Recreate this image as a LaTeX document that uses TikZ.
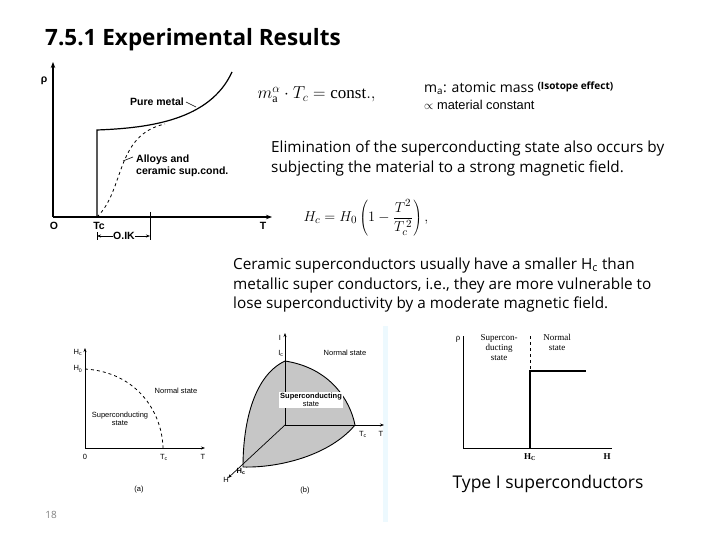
\documentclass[tikz,border=0pt]{standalone}
\usepackage{fontspec}
\setmainfont{Open Sans}
\setmathrm{Liberation Serif}
\newfontfamily\ser{Liberation Serif}
\newfontfamily\ars{Liberation Sans}
\usetikzlibrary{arrows.meta}
\begin{document}
\begin{tikzpicture}[x=1pt,y=-1pt,
  ax/.style={line width=1.4pt,-{Stealth[length=6pt]}},
  sm/.style={font=\ars\bfseries\fontsize{10.5}{12}\selectfont},
  tiny/.style={font=\ars\fontsize{7.5}{8.5}\selectfont},
  rs/.style={font=\ser\fontsize{9}{10}\selectfont},
  body/.style={font=\fontsize{15.3}{19.3}\selectfont,align=left,anchor=north west,inner sep=0pt}]
\useasboundingbox[fill=white] (0,0) rectangle (720,540);
\node[anchor=west,font=\bfseries\fontsize{22.5}{25}\selectfont,inner sep=0pt] (title) at (45,40) {7.5.1 Experimental Results};
% top-left graph
\coordinate (o1) at (53,217);
\draw[ax] (o1) -- (53,62);
\draw[ax] (o1) -- (272,217);
\draw[line width=1.2pt] (97,217) -- (97,130) .. controls (150,128) and (210,120) .. (232,72);
\draw[dashed,line width=0.8pt] (97,217) .. controls (125,190) and (115,135) .. (165,124);
\draw[line width=0.8pt] (150,212) -- (150,240);
\draw[line width=0.6pt] (97,232) -- (97,240);
\draw[{Stealth[length=4pt]}-{Stealth[length=4pt]},line width=0.6pt] (97,236) -- (150,236);
\node[sm,fill=white,inner sep=0.5pt] (k) at (124,236) {O.IK};
\node[sm] (rho1) at (44,81) {ρ};
\node[sm] (O1) at (54,226) {O};
\node[sm] (Tc1) at (99,226) {Tc};
\node[sm] (T1) at (263,226) {T};
\node[sm] (pm) at (157,102) {Pure metal};
\draw[line width=0.6pt] (186,102) -- (196,107);
\node[sm,align=left,anchor=west,inner sep=0pt] (al) at (136,166) {Alloys and\\ceramic sup.cond.};
\draw[line width=0.6pt] (123,161) -- (133,157);
% formula texts
\node[anchor=west,font=\ser\fontsize{17}{20}\selectfont] (f1) at (254,95) {$m_{\mathrm{a}}^{\alpha}\cdot T_c=\mathrm{const.},$};
\node[anchor=west,font=\fontsize{14}{16}\selectfont,inner sep=0pt] (ma) at (424,88) {m\textsubscript{a}: atomic mass \raisebox{3pt}{\bfseries\fontsize{10}{11}\selectfont(Isotope effect)}};
\node[anchor=west,font=\ars\fontsize{12.8}{15}\selectfont,inner sep=0pt] (mc) at (424,105) {$\propto$ material constant};
\node[body] (elim) at (271,141) {Elimination of the superconducting state also occurs by\\subjecting the material to a strong magnetic field.};
\node[anchor=west,font=\ser\fontsize{15}{18}\selectfont] (f2) at (300,218) {$H_c=H_0\left(1-\displaystyle\frac{T^2}{T_c^{\,2}}\right),$};
\node[body] (cer) at (233,258) {Ceramic superconductors usually have a smaller H\textsubscript{c} than\\metallic super conductors, i.e., they are more vulnerable to\\lose superconductivity by a moderate magnetic field.};
% (a)
\draw[line width=0.7pt,-{Stealth[length=4pt]}] (85,448) -- (85,348);
\draw[line width=0.7pt,-{Stealth[length=4pt]}] (85,448) -- (205,448);
\draw[dashed,line width=0.8pt] (85,369) .. controls (135,372) and (162,410) .. (163,448);
\node[tiny] (hca) at (78,352) {H\textsubscript{c}};
\node[tiny] (h0a) at (78,369) {H\textsubscript{0}};
\node[tiny] (ns) at (176,391) {Normal state};
\node[tiny,align=center] (ss) at (120,419) {Superconducting\\state};
\node[tiny] (zero) at (85,457) {0};
\node[tiny] (tca) at (164,457) {T\textsubscript{c}};
\node[tiny] (ta) at (203,457) {T};
\node[tiny] (la) at (139,490) {(a)};
% (b)
\fill[cyan!7] (383,326) rectangle (388,522);
\path[fill=gray!45] (285,361) .. controls (330,368) and (350,400) .. (355,425) .. controls (330,455) and (280,468) .. (243,467) .. controls (243,420) and (255,375) .. (285,361) -- cycle;
\draw[line width=0.9pt] (285,361) .. controls (330,368) and (350,400) .. (355,425) .. controls (330,455) and (280,468) .. (243,467) .. controls (243,420) and (255,375) .. (285,361) -- cycle;
\draw[line width=0.7pt,-{Stealth[length=4pt]}] (285,425) -- (285,333);
\draw[line width=0.7pt,-{Stealth[length=4pt]}] (285,425) -- (384,425);
\draw[line width=0.7pt,-{Stealth[length=4pt]}] (285,425) -- (228,478);
\node[tiny,fill=white,align=center,inner sep=1pt] (ssb) at (311,400) {\bfseries Superconducting\\state};
\node[tiny] (ib) at (280,338) {I};
\node[tiny] (icb) at (281,353) {I\textsubscript{c}};
\node[tiny] (nsb) at (345,353) {Normal state};
\node[tiny] (tcb) at (363,434) {T\textsubscript{c}};
\node[tiny] (tb) at (381,434) {T};
\node[tiny] (hcb) at (241,471) {\bfseries H\textsubscript{c}};
\node[tiny] (hb) at (226,480) {H};
\node[tiny] (lb) at (305,491) {(b)};
% right graph
\draw[line width=0.7pt] (463,336) -- (463,448) -- (612,448);
\draw[dashed,line width=0.5pt] (530,336) -- (530,371);
\draw[line width=1.4pt] (530,448) -- (530,371) -- (586,371);
\node[rs] (rr) at (458,339) {ρ};
\node[rs,align=center,anchor=north,inner sep=0pt] (sc) at (499,334) {Supercon-\\ducting\\state};
\node[rs,align=center,anchor=north,inner sep=0pt] (nr) at (557,334) {Normal\\state};
\node[rs,font=\ser\bfseries\fontsize{9}{10}\selectfont] (hcr) at (530,457) {H\textsubscript{C}};
\node[rs,font=\ser\bfseries\fontsize{9}{10}\selectfont] (hr) at (607,457) {H};
\node[font=\fontsize{17.5}{20}\selectfont] (type) at (548,484) {Type I superconductors};
\node[text=gray,font=\fontsize{10}{11}\selectfont] (pg) at (51,515) {18};
\end{tikzpicture}
\end{document}
